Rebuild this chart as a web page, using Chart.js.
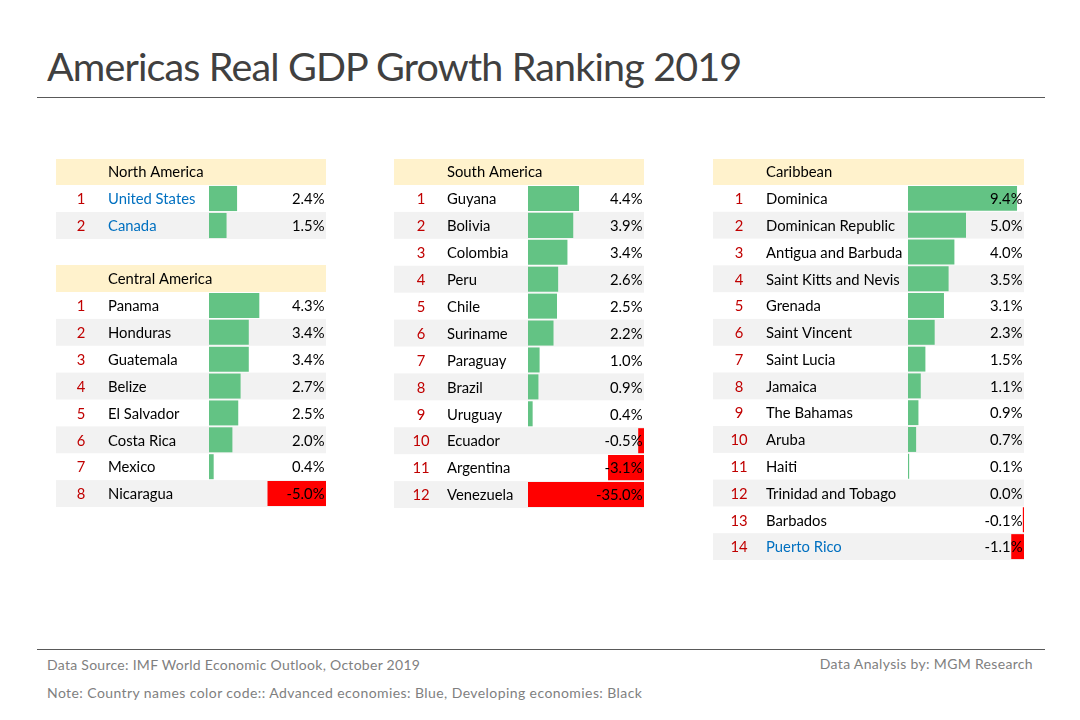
<!DOCTYPE html>
<html>
<head>
<meta charset="utf-8">
<title>Americas Real GDP Growth Ranking 2019</title>
<script src="https://cdn.jsdelivr.net/npm/chart.js@4"></script>
<style>
  html, body { margin: 0; padding: 0; background: #fff; }
  body { position: relative; width: 1080px; height: 720px; overflow: hidden; font-family: Lato, sans-serif; }
  canvas { position: absolute; }
  .title { position: absolute; left: 47px; top: 41px; font-size: 39.5px; line-height: 50px; letter-spacing: -0.86px; color: #404040; white-space: nowrap; }
  .rule { position: absolute; left: 37px; width: 1008px; height: 1px; background: #595959; }
  .foot { position: absolute; font-size: 14px; line-height: 18px; color: #7f7f7f; white-space: nowrap; }
</style>
</head>
<body>
<div class="title">Americas Real GDP Growth Ranking 2019</div>
<div class="rule" style="top:97px"></div>
<div class="rule" style="top:649px"></div>
<div class="foot" style="left:47px;top:656px;letter-spacing:0.28px">Data Source: IMF World Economic Outlook, October 2019</div>
<div class="foot" style="right:47px;top:655px;letter-spacing:0.33px">Data Analysis by: MGM Research</div>
<div class="foot" style="left:47px;top:684px;letter-spacing:0.42px">Note: Country names color code:: Advanced economies: Blue, Developing economies: Black</div>

<script>
// --- data ---
const northNames = ['United States', 'Canada'];
const northValues = [2.4, 1.5];

const centralNames = ['Panama', 'Honduras', 'Guatemala', 'Belize', 'El Salvador', 'Costa Rica', 'Mexico', 'Nicaragua'];
const centralValues = [4.3, 3.4, 3.4, 2.7, 2.5, 2.0, 0.4, -5.0];

const southNames = ['Guyana', 'Bolivia', 'Colombia', 'Peru', 'Chile', 'Suriname', 'Paraguay', 'Brazil', 'Uruguay', 'Ecuador', 'Argentina', 'Venezuela'];
const southValues = [4.4, 3.9, 3.4, 2.6, 2.5, 2.2, 1.0, 0.9, 0.4, -0.5, -3.1, -35.0];

const caribbeanNames = ['Dominica', 'Dominican Republic', 'Antigua and Barbuda', 'Saint Kitts and Nevis', 'Grenada', 'Saint Vincent', 'Saint Lucia', 'Jamaica', 'The Bahamas', 'Aruba', 'Haiti', 'Trinidad and Tobago', 'Barbados', 'Puerto Rico'];
const caribbeanValues = [9.4, 5.0, 4.0, 3.5, 3.1, 2.3, 1.5, 1.1, 0.9, 0.7, 0.1, 0.0, -0.1, -1.1];

const advancedEconomies = ['United States', 'Canada', 'Puerto Rico'];

// --- styles ---
const HEADER_FILL = '#FFF2CC';
const STRIPE_FILL = '#F2F2F2';
const BAR_GREEN = '#63C384';
const BAR_RED = '#FF0000';
const RANK_COLOR = '#C00000';
const BLUE_NAME = '#0070C0';
const FONT_SIZE = 14.8;
const FONT = FONT_SIZE + 'px Lato';
const TEXT_NUDGE = 1;

// draws the header band, zebra rows, rank numbers and value labels
const tablePlugin = {
    id: 'tablePlugin',
    beforeDraw(chart, args, opts) {
        const ctx = chart.ctx;
        const yScale = chart.scales.y;
        const w = chart.width;
        const headerH = chart.chartArea.top;
        const rowH = chart.chartArea.height / opts.values.length;
        ctx.save();
        ctx.fillStyle = HEADER_FILL;
        ctx.fillRect(0, 0, w, headerH);
        ctx.fillStyle = '#000';
        ctx.font = FONT;
        ctx.textBaseline = 'middle';
        ctx.textAlign = 'left';
        ctx.fillText(opts.heading, opts.nameX, headerH / 2 + 0.5);
        ctx.fillStyle = STRIPE_FILL;
        opts.values.forEach((v, i) => {
            if (i % 2 === 1) {
                ctx.fillRect(0, yScale.getPixelForValue(i) - rowH / 2, w, rowH);
            }
        });
        ctx.restore();
    },
    afterDatasetsDraw(chart, args, opts) {
        const ctx = chart.ctx;
        const yScale = chart.scales.y;
        ctx.save();
        ctx.font = FONT;
        ctx.textBaseline = 'middle';
        opts.values.forEach((v, i) => {
            const y = yScale.getPixelForValue(i) + TEXT_NUDGE;
            ctx.fillStyle = RANK_COLOR;
            ctx.textAlign = 'center';
            ctx.fillText(String(i + 1), opts.rankX, y);
            ctx.fillStyle = '#000';
            ctx.textAlign = 'right';
            ctx.fillText(v.toFixed(1) + '%', chart.width - 1.5, y);
        });
        ctx.restore();
    }
};

// positive bars grow from the left edge of the column, negative ones from the right edge
function createTable(heading, names, values, box) {
    const canvas = document.createElement('canvas');
    canvas.width = box.width;
    canvas.height = Math.round(box.headerH + names.length * box.rowH);
    canvas.style.left = box.left + 'px';
    canvas.style.top = box.top + 'px';
    document.body.appendChild(canvas);

    new Chart(canvas, {
        type: 'bar',
        data: {
            labels: names,
            datasets: [
                {
                    data: values.map(v => (v >= 0 ? v : null)),
                    xAxisID: 'x',
                    backgroundColor: BAR_GREEN
                },
                {
                    data: values.map(v => (v < 0 ? v : null)),
                    xAxisID: 'x2',
                    backgroundColor: BAR_RED
                }
            ]
        },
        options: {
            indexAxis: 'y',
            responsive: false,
            animation: false,
            events: [],
            layout: { padding: { left: box.nameX, top: box.headerH, right: 0, bottom: 0 } },
            datasets: { bar: { grouped: false, categoryPercentage: 1, barPercentage: 0.93, borderWidth: 0 } },
            scales: {
                x: { display: false, min: 0, max: 10 },
                x2: { display: false, min: -10, max: 0 },
                y: {
                    afterFit: scale => {
                        scale.width = box.barX - box.nameX;
                        scale.paddingTop = 0;
                        scale.paddingBottom = 0;
                    },
                    border: { display: false },
                    grid: { display: false, drawTicks: false },
                    ticks: {
                        autoSkip: false,
                        padding: 0,
                        labelOffset: TEXT_NUDGE,
                        crossAlign: 'far',
                        font: { family: 'Lato', size: FONT_SIZE },
                        color: ctx => (advancedEconomies.includes(names[ctx.index]) ? BLUE_NAME : '#000')
                    }
                }
            },
            plugins: {
                legend: { display: false },
                tooltip: { enabled: false },
                tablePlugin: { heading: heading, values: values, nameX: box.nameX, rankX: box.rankX }
            }
        },
        plugins: [tablePlugin]
    });
}

createTable('North America', northNames, northValues, { left: 56, top: 159, width: 270, headerH: 26, rowH: 27, rankX: 25, nameX: 52, barX: 153 });
createTable('Central America', centralNames, centralValues, { left: 56, top: 265, width: 270, headerH: 27, rowH: 26.9, rankX: 25, nameX: 52, barX: 153 });
createTable('South America', southNames, southValues, { left: 394, top: 159, width: 250, headerH: 26, rowH: 26.9, rankX: 27, nameX: 53, barX: 134 });
createTable('Caribbean', caribbeanNames, caribbeanValues, { left: 713, top: 159, width: 311, headerH: 26, rowH: 26.8, rankX: 26, nameX: 53, barX: 195 });
</script>
</body>
</html>
